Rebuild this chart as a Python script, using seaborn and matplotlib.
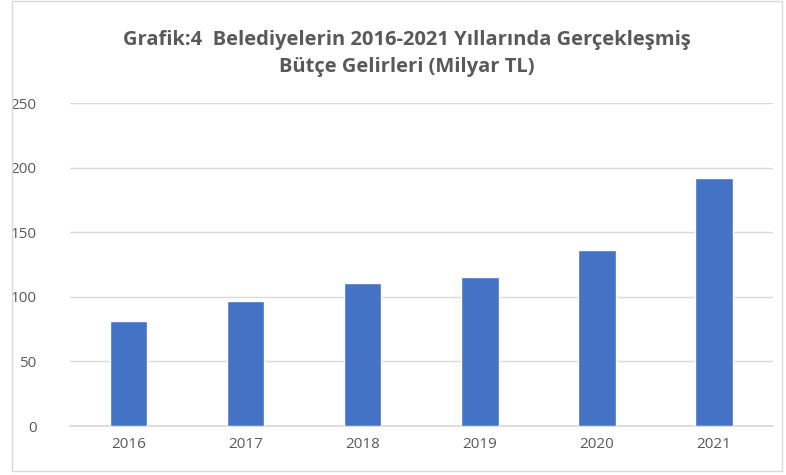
import matplotlib
matplotlib.use("Agg")
import matplotlib.pyplot as plt
import seaborn as sns
import pandas as pd
from matplotlib.patches import Rectangle

years = ["2016", "2017", "2018", "2019", "2020", "2021"]
revenues = [81, 97, 110.8, 115.2, 136.3, 192]

df = pd.DataFrame({"yil": years, "gelir": revenues})

sns.set_theme(style="white")
plt.rcParams['font.family'] = ['Open Sans', 'DejaVu Sans']

fig = plt.figure(figsize=(7.86, 4.75), dpi=100)
ax = fig.add_axes([0.089, 0.103, 0.894, 0.68])

sns.barplot(data=df, x="yil", y="gelir", color="#4472C4", width=0.32,
            saturation=1, ax=ax, zorder=3)

ax.set_ylim(0, 250)
ax.set_yticks(range(0, 251, 50))
ax.yaxis.grid(True, color="#d9d9d9", linewidth=1, zorder=0)
ax.set_axisbelow(True)
for s in ["top", "right", "left"]:
    ax.spines[s].set_visible(False)
ax.spines["bottom"].set_color("#d9d9d9")
ax.set_xlabel("")
ax.set_ylabel("")
ax.tick_params(axis="both", length=0, labelsize=11, colors="#595959", pad=8)
ax.tick_params(axis="y", pad=24)

fig.text(0.518, 0.916, "Grafik:4  Belediyelerin 2016-2021 Yıllarında Gerçekleşmiş",
         ha="center", va="center", fontsize=14.5, fontweight="bold", color="#595959")
fig.text(0.518, 0.859, "Bütçe Gelirleri (Milyar TL)",
         ha="center", va="center", fontsize=14.5, fontweight="bold", color="#595959")

fig.patches.append(Rectangle((0.015, 0.008), 0.98, 0.99, transform=fig.transFigure,
                             fill=False, edgecolor="#d9d9d9", linewidth=1))

fig.savefig("out.png", dpi=100)
plt.close(fig)
